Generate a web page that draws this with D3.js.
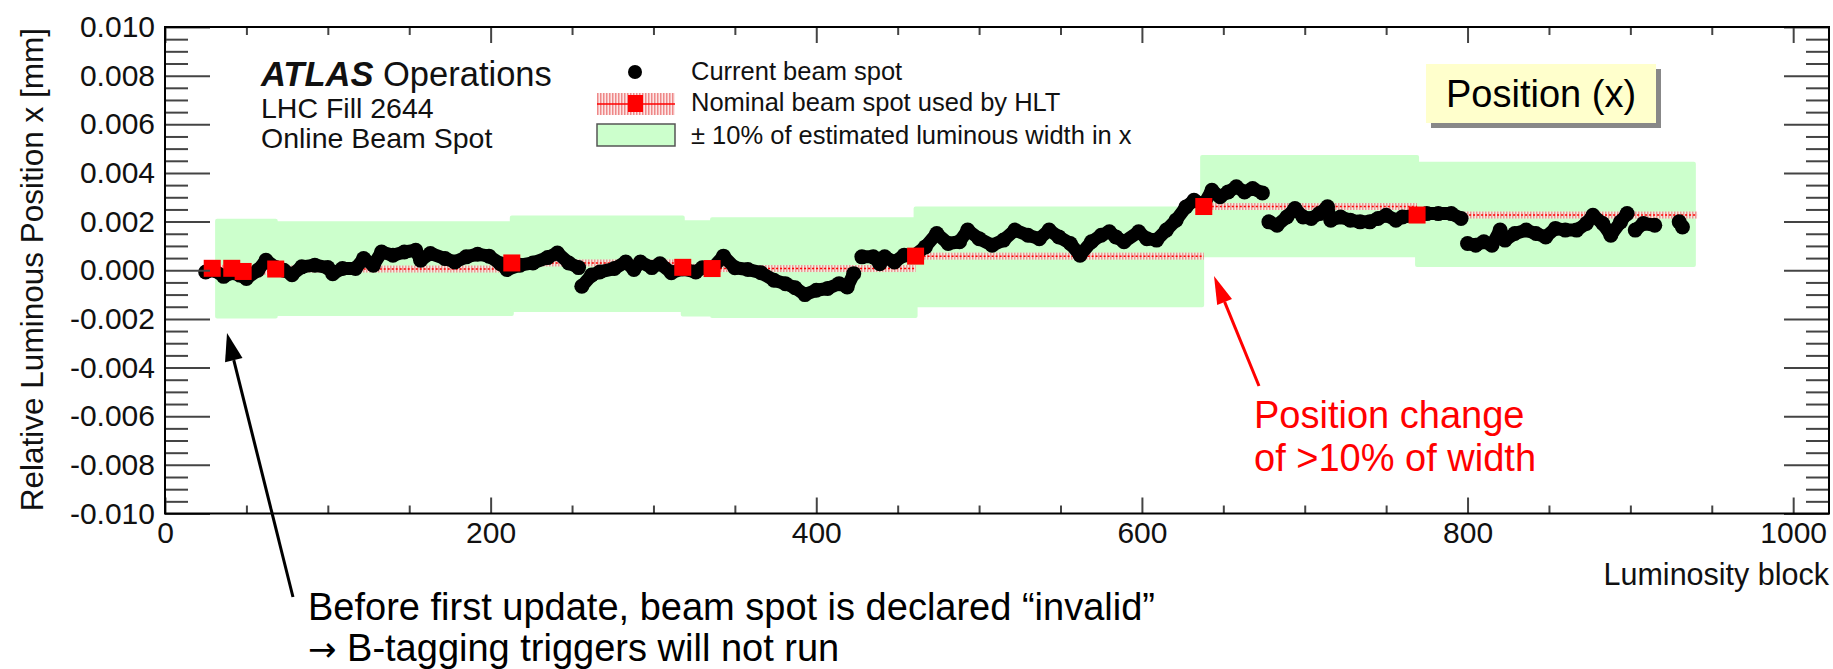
<!DOCTYPE html>
<html>
<head>
<meta charset="utf-8">
<script src="https://cdn.jsdelivr.net/npm/d3@7"></script>
<style>
  body { margin: 0; background: #fff; }
  svg text { font-family: "Liberation Sans", Arial, Helvetica, sans-serif; }
</style>
</head>
<body>
<svg id="chart"></svg>
<script>
// Current beam spot : luminosity block / position x [mm]
const beamLB = [25, 30, 36, 42, 46, 50, 57, 62, 68, 73, 78, 84, 92, 100, 103, 109, 117, 122, 128, 133,
  140, 147, 154, 157, 163, 172, 178, 185, 192, 199, 206, 210, 218, 226, 235, 241, 248, 254, 256, 262,
  267, 276, 283, 288, 292, 299, 304, 311, 318, 326, 330, 336, 343, 350, 358, 366, 374, 381, 387, 393,
  400, 407, 414, 419, 423, 428, 435, 439, 442, 448, 454, 460, 467, 474, 481, 488, 493, 500, 508, 515,
  522, 530, 537, 543, 549, 556, 562, 569, 575, 580, 584, 589, 598, 603, 609, 615, 621, 627, 632, 638,
  643, 648, 653, 658, 663, 668, 674, 678, 683, 689, 694, 699, 704, 709, 714, 716, 722, 728, 734, 740,
  745, 750, 756, 760, 769, 775, 782, 790, 796, 800, 805, 810, 815, 820, 823, 829, 836, 842, 848, 854,
  860, 867, 873, 877, 883, 888, 894, 898, 903, 908, 915, 930, 932];
const beamX = [-0.00007, 0.00000, -0.00025, -0.00010, -0.00020, -0.00034, 0.00000, 0.00041, 0.00011, 0.00000,
  -0.00018, 0.00014, 0.00021, 0.00011, -0.00014, 0.00007, 0.00007, 0.00048, 0.00021, 0.00075,
  0.00062, 0.00075, 0.00082, 0.00041, 0.00069, 0.00048, 0.00034, 0.00055, 0.00066, 0.00058,
  0.00027, 0.00003, 0.00021, 0.00030, 0.00052, 0.00071, 0.00030, 0.00011, -0.00066, -0.00020,
  -0.00007, 0.00007, 0.00034, 0.00003, 0.00034, 0.00011, 0.00027, -0.00010, 0.00005, -0.00007,
  0.00010, 0.00007, 0.00058, 0.00010, 0.00003, -0.00010, -0.00041, -0.00055, -0.00072, -0.00100,
  -0.00082, -0.00075, -0.00055, -0.00069, -0.00014, 0.00055, 0.00055, 0.00027, 0.00055, 0.00034,
  0.00062, 0.00060, 0.00096, 0.00151, 0.00110, 0.00117, 0.00165, 0.00130, 0.00103, 0.00124,
  0.00165, 0.00144, 0.00130, 0.00165, 0.00137, 0.00110, 0.00062, 0.00117, 0.00144, 0.00158,
  0.00137, 0.00117, 0.00158, 0.00130, 0.00124, 0.00165, 0.00206, 0.00260, 0.00288, 0.00270,
  0.00329, 0.00302, 0.00322, 0.00343, 0.00322, 0.00336, 0.00318, 0.00199, 0.00185, 0.00219,
  0.00254, 0.00219, 0.00213, 0.00233, 0.00261, 0.00206, 0.00219, 0.00206, 0.00199, 0.00199,
  0.00213, 0.00226, 0.00206, 0.00219, 0.00226, 0.00233, 0.00233, 0.00233, 0.00213, 0.00110,
  0.00103, 0.00117, 0.00103, 0.00165, 0.00124, 0.00151, 0.00165, 0.00151, 0.00137, 0.00172,
  0.00165, 0.00165, 0.00192, 0.00226, 0.00192, 0.00144, 0.00199, 0.00233, 0.00165, 0.00192,
  0.00185, 0.00199, 0.00178];

// Nominal beam spot used by HLT (updates)
const nominalLB = [29, 41, 48, 68, 213, 318, 336, 461, 638, 769];
const nominalX = [0.00008, 0.00008, -0.00005, 0.00005, 0.00030, 0.00012, 0.00007, 0.00058, 0.00262, 0.00227];
const nominalEnd = 941;

// +-10% of estimated luminous width band
const bandLB = [32, 68, 213, 318, 336, 461, 637, 769, 939];
const bandLow = [-0.00190, -0.00180, -0.00163, -0.00182, -0.00188, -0.00144, 0.00062, 0.00022, 0.00022];
const bandHigh = [0.00203, 0.00193, 0.00217, 0.00197, 0.00210, 0.00254, 0.00466, 0.00438, 0.00438];

// axes
const xMajor = [0, 200, 400, 600, 800, 1000];
const xMinor = [50, 100, 150, 250, 300, 350, 450, 500, 550, 650, 700, 750, 850, 900, 950];
const yMajor = [-0.010, -0.008, -0.006, -0.004, -0.002, 0.000, 0.002, 0.004, 0.006, 0.008, 0.010];
const yMinor = [-0.0095, -0.009, -0.0085, -0.0075, -0.007, -0.0065, -0.0055, -0.005, -0.0045,
  -0.0035, -0.003, -0.0025, -0.0015, -0.001, -0.0005, 0.0005, 0.001, 0.0015, 0.0025, 0.003, 0.0035,
  0.0045, 0.005, 0.0055, 0.0065, 0.007, 0.0075, 0.0085, 0.009, 0.0095];

const width = 1833, height = 669;
const frame = { left: 165, right: 1829, top: 27, bottom: 513.5 };
const fontFam = '"Liberation Sans", Arial, Helvetica, sans-serif';

const svg = d3.select("#chart").attr("width", width).attr("height", height);

const x = d3.scaleLinear().domain([0, 1022]).range([frame.left, frame.right]);
const y = d3.scaleLinear().domain([-0.010, 0.010]).range([frame.bottom, frame.top]);

// motif hachure rose
const defs = svg.append("defs");
const hatch = defs.append("pattern").attr("id", "hatch")
  .attr("patternUnits", "userSpaceOnUse").attr("width", 3).attr("height", 3);
hatch.append("rect").attr("width", 3).attr("height", 3).attr("fill", "#fde6e6");
hatch.append("rect").attr("width", 1.5).attr("height", 3).attr("fill", "#ee8888");

// bande verte
const band = bandLB.map((lb, i) => ({ lb, lo: bandLow[i], hi: bandHigh[i] }));
svg.append("path")
  .datum(band)
  .attr("fill", "#ccffcc")
  .attr("stroke", "#ccffcc").attr("stroke-width", 4).attr("stroke-linejoin", "round")
  .attr("d", d3.area().curve(d3.curveStepAfter)
    .x(d => x(d.lb)).y0(d => y(d.lo)).y1(d => y(d.hi)));

// faisceau nominal : bande hachuree + ligne pointillee
const nominal = nominalLB.map((lb, i) => ({
  lb, v: nominalX[i], end: i < nominalLB.length - 1 ? nominalLB[i + 1] : nominalEnd
}));
svg.selectAll(".nomband").data(nominal).enter().append("rect")
  .attr("x", d => x(d.lb)).attr("width", d => x(d.end) - x(d.lb))
  .attr("y", d => y(d.v) - 3.5).attr("height", 7)
  .attr("fill", "url(#hatch)").attr("opacity", 0.85);
svg.selectAll(".nomline").data(nominal).enter().append("line")
  .attr("x1", d => x(d.lb)).attr("x2", d => x(d.end))
  .attr("y1", d => y(d.v)).attr("y2", d => y(d.v))
  .attr("stroke", "#ff0000").attr("stroke-width", 1.5).attr("stroke-dasharray", "2,2");

// faisceau courant
const beam = beamLB.map((lb, i) => ({ lb, v: beamX[i] }));
const links = d3.pairs(beam).filter(([a, b]) => b.lb - a.lb <= 9 && Math.abs(b.v - a.v) <= 0.00062);
svg.selectAll(".link").data(links).enter().append("line")
  .attr("x1", d => x(d[0].lb)).attr("y1", d => y(d[0].v))
  .attr("x2", d => x(d[1].lb)).attr("y2", d => y(d[1].v))
  .attr("stroke", "#000").attr("stroke-width", 13).attr("stroke-linecap", "round");
svg.selectAll(".dot").data(beam).enter().append("circle")
  .attr("cx", d => x(d.lb)).attr("cy", d => y(d.v)).attr("r", 7.5).attr("fill", "#000");

// carres rouges
svg.selectAll(".sq").data(nominal).enter().append("rect")
  .attr("x", d => x(d.lb) - 8.5).attr("y", d => y(d.v) - 8.5)
  .attr("width", 17).attr("height", 17).attr("fill", "#ff0000");

// axes
function styleAxis(g, size) {
  g.select(".domain").remove();
  g.attr("font-size", size).attr("font-family", fontFam);
  g.selectAll("line").attr("stroke", "#444").attr("stroke-width", 2);
  g.selectAll("text").attr("fill", "#111");
}
svg.append("g").attr("transform", `translate(0,${frame.bottom})`)
  .call(d3.axisBottom(x).tickValues(xMajor).tickSize(-16).tickPadding(8).tickFormat(d => d))
  .call(g => styleAxis(g, 30));
svg.append("g").attr("transform", `translate(0,${frame.bottom})`)
  .call(d3.axisBottom(x).tickValues(xMinor).tickSize(-8).tickFormat(""))
  .call(g => styleAxis(g, 30));
svg.append("g").attr("transform", `translate(0,${frame.top})`)
  .call(d3.axisTop(x).tickValues(xMajor).tickSize(-16).tickFormat(""))
  .call(g => styleAxis(g, 30));
svg.append("g").attr("transform", `translate(0,${frame.top})`)
  .call(d3.axisTop(x).tickValues(xMinor).tickSize(-8).tickFormat(""))
  .call(g => styleAxis(g, 30));
svg.append("g").attr("transform", `translate(${frame.left},0)`)
  .call(d3.axisLeft(y).tickValues(yMajor).tickSize(-45).tickPadding(10).tickFormat(d => d.toFixed(3)))
  .call(g => styleAxis(g, 30));
svg.append("g").attr("transform", `translate(${frame.left},0)`)
  .call(d3.axisLeft(y).tickValues(yMinor).tickSize(-23).tickFormat(""))
  .call(g => styleAxis(g, 30));
svg.append("g").attr("transform", `translate(${frame.right},0)`)
  .call(d3.axisRight(y).tickValues(yMajor).tickSize(-45).tickFormat(""))
  .call(g => styleAxis(g, 30));
svg.append("g").attr("transform", `translate(${frame.right},0)`)
  .call(d3.axisRight(y).tickValues(yMinor).tickSize(-23).tickFormat(""))
  .call(g => styleAxis(g, 30));

svg.append("rect")
  .attr("x", frame.left).attr("y", frame.top)
  .attr("width", frame.right - frame.left).attr("height", frame.bottom - frame.top)
  .attr("fill", "none").attr("stroke", "#000").attr("stroke-width", 2);

// titres des axes
svg.append("text")
  .attr("transform", `translate(43,${frame.top + 1}) rotate(-90)`)
  .attr("text-anchor", "end").attr("font-size", 31.5).attr("fill", "#111")
  .text("Relative Luminous Position x [mm]");
svg.append("text")
  .attr("x", frame.right).attr("y", 585)
  .attr("text-anchor", "end").attr("font-size", 30.5).attr("fill", "#111")
  .text("Luminosity block");

// ATLAS
const atlas = svg.append("text").attr("x", 261).attr("y", 86).attr("font-size", 34.5).attr("fill", "#111");
atlas.append("tspan").attr("font-weight", "bold").attr("font-style", "italic").text("ATLAS");
atlas.append("tspan").text(" Operations");
svg.append("text").attr("x", 261).attr("y", 118).attr("font-size", 28.5).attr("fill", "#111").text("LHC Fill 2644");
svg.append("text").attr("x", 261).attr("y", 148).attr("font-size", 28.5).attr("fill", "#111").text("Online Beam Spot");

// legende
const legX = 691;
svg.append("circle").attr("cx", 635).attr("cy", 72).attr("r", 7).attr("fill", "#000");
svg.append("text").attr("x", legX).attr("y", 80).attr("font-size", 25.5).attr("fill", "#111").text("Current beam spot");
svg.append("rect").attr("x", 597).attr("y", 93).attr("width", 78).attr("height", 22).attr("fill", "url(#hatch)");
svg.append("line").attr("x1", 597).attr("x2", 675).attr("y1", 104).attr("y2", 104)
  .attr("stroke", "#ff0000").attr("stroke-width", 1.5);
svg.append("rect").attr("x", 628).attr("y", 95).attr("width", 15).attr("height", 17).attr("fill", "#ff0000");
svg.append("text").attr("x", legX).attr("y", 111).attr("font-size", 25.5).attr("fill", "#111").text("Nominal beam spot used by HLT");
svg.append("rect").attr("x", 597).attr("y", 124).attr("width", 78).attr("height", 22)
  .attr("fill", "#ccffcc").attr("stroke", "#555").attr("stroke-width", 1.5);
svg.append("text").attr("x", legX).attr("y", 144).attr("font-size", 25.5).attr("fill", "#111")
  .text("\u00b1 10% of estimated luminous width in x");

// boite Position (x)
svg.append("rect").attr("x", 1431).attr("y", 69).attr("width", 230).attr("height", 59).attr("fill", "#888");
svg.append("rect").attr("x", 1426).attr("y", 64).attr("width", 230).attr("height", 59).attr("fill", "#ffffcc");
svg.append("text").attr("x", 1446).attr("y", 107).attr("font-size", 38).attr("fill", "#000").text("Position (x)");

// fleches
function arrow(x1, y1, x2, y2, color, headLen, headW) {
  const a = Math.atan2(y2 - y1, x2 - x1);
  const bx = x2 - headLen * Math.cos(a), by = y2 - headLen * Math.sin(a);
  svg.append("line").attr("x1", x1).attr("y1", y1).attr("x2", bx).attr("y2", by)
    .attr("stroke", color).attr("stroke-width", 3);
  const px = -Math.sin(a) * headW / 2, py = Math.cos(a) * headW / 2;
  svg.append("polygon")
    .attr("points", `${x2},${y2} ${bx + px},${by + py} ${bx - px},${by - py}`)
    .attr("fill", color);
}
arrow(293, 597, 227, 333, "#000", 28, 18);
arrow(1259, 386, 1214, 276, "#ff0000", 28, 16);

// annotations
svg.append("text").attr("x", 1254).attr("y", 428).attr("font-size", 38).attr("fill", "#ff0000").text("Position change");
svg.append("text").attr("x", 1254).attr("y", 471).attr("font-size", 38).attr("fill", "#ff0000").text("of >10% of width");
svg.append("text").attr("x", 308).attr("y", 620).attr("font-size", 38).attr("fill", "#000")
  .text("Before first update, beam spot is declared \u201cinvalid\u201d");
const last = svg.append("text").attr("x", 308).attr("y", 661).attr("font-size", 38).attr("fill", "#000");
last.append("tspan").attr("font-family", '"DejaVu Sans", sans-serif').attr("font-size", 34).text("\u2192");
last.append("tspan").text(" B-tagging triggers will not run");
</script>
</body>
</html>
